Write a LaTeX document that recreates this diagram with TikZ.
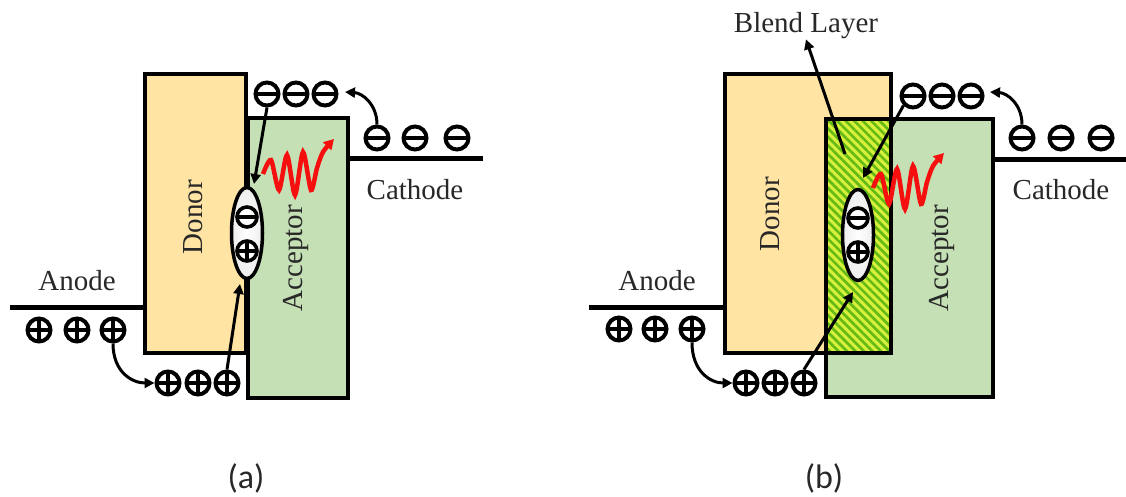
\documentclass[tikz,border=0pt]{standalone}
\usepackage{fontspec}
\setmainfont{Liberation Serif}
\newfontfamily\labfont{Carlito}
\usetikzlibrary{arrows.meta,patterns.meta,shapes.geometric}

\definecolor{donorfill}{RGB}{255,228,163}
\definecolor{accfill}{RGB}{197,224,180}
\definecolor{blendbg}{RGB}{214,240,60}
\definecolor{blendln}{RGB}{100,185,20}
\definecolor{wavered}{RGB}{245,15,15}
\definecolor{txt}{RGB}{40,40,40}

\tikzset{
  box/.style={draw=black, line width=4pt},
  electrode/.style={line width=5pt},
  chg/.style={circle, draw=black, line width=4pt, minimum size=23pt, inner sep=0pt, fill=white},
  neg/.style={chg, path picture={\draw[line width=3.4pt] (path picture bounding box.west) -- (path picture bounding box.east);}},
  posc/.style={chg, path picture={\draw[line width=3.2pt] (path picture bounding box.west) -- (path picture bounding box.east); \draw[line width=3.2pt] (path picture bounding box.north) -- (path picture bounding box.south);}},
  smallchg/.style={minimum size=20pt, line width=3.6pt},
  pair/.style={ellipse, draw=black, line width=3.5pt, inner color=white, outer color=black!7, minimum width=31pt, minimum height=91pt, inner sep=0pt},
  lbl/.style={font=\fontsize{29}{31}\selectfont, text=txt, inner sep=0pt},
  panellabel/.style={font=\labfont\fontsize{34}{36}\selectfont, text=txt, inner sep=0pt},
  arr/.style={line width=3pt, -{Triangle[length=10pt,width=10pt]}},
  wave/.style={draw=wavered, line width=4.5pt, -{Triangle[length=10pt,width=11pt]}, fill=none},
}

\begin{document}
\begin{tikzpicture}[x=1pt,y=-1pt]
\useasboundingbox (0,0) rectangle (1126,497);

% ================= panel (a) =================
\draw[electrode] (10,307) -- (145,307);
\draw[electrode] (348,159) -- (483,159);
\draw[box, fill=donorfill] (145,74) rectangle (246,353);
\draw[box, fill=accfill] (248,118) rectangle (348,398);

\node[lbl, rotate=90] (donA) at (193,217) {Donor};
\node[lbl, rotate=90] (accA) at (296,258) {Acceptor};
\node[lbl] (anA) at (77,281) {Anode};
\node[lbl] (caA) at (415,190) {Cathode};

\node[posc] (apA1) at (39,330) {};
\node[posc] (apA2) at (77,330) {};
\node[posc] (apA3) at (113,330) {};
\node[posc] (bpA1) at (168,383) {};
\node[posc] (bpA2) at (198,383) {};
\node[posc] (bpA3) at (227,383) {};

\node[neg] (tmA1) at (267,94) {};
\node[neg] (tmA2) at (296,94) {};
\node[neg] (tmA3) at (325,94) {};
\node[neg] (rmA1) at (377,138) {};
\node[neg] (rmA2) at (415,138) {};
\node[neg] (rmA3) at (457,138) {};

\node[pair] (pairA) at (247,233) {};
\node[neg, smallchg] (exnA) at (247,217) {};
\node[posc, smallchg] (expA) at (247,251) {};

\coordinate (tipTopA) at (254,184);
\coordinate (tipBotA) at (240,284);
\coordinate (tipCathA) at (345,92);

\draw[arr] (tmA1.south) -- (tipTopA);
\draw[arr] (bpA3.north) -- (tipBotA);
\draw[arr] (rmA1.north) .. controls (377,104) and (362,93) .. (tipCathA);
\draw[arr] (apA3.south) .. controls (113,372) and (132,383) .. (bpA1.west);

\draw[wave] plot[smooth, tension=0.45] coordinates {(263,174) (271,160) (279,190) (287,155) (295,195) (303,152) (311,190) (317,168) (323,152) (334,139)};

\node[panellabel] (labA) at (246,478) {(a)};

% ================= panel (b) =================
\draw[electrode] (589,307) -- (725,307);
\draw[electrode] (993,160) -- (1126,160);
\draw[box, fill=donorfill] (725,74) rectangle (891,353);
\draw[box, fill=accfill] (826,119) rectangle (993,397);
\fill[blendbg] (826,119) rectangle (891,353);
\fill[pattern={Lines[angle=-45,distance=6pt,line width=2.6pt]}, pattern color=blendln] (826,119) rectangle (891,353);
\draw[box] (826,119) rectangle (891,353);

\node[lbl, rotate=90] (donB) at (770,214) {Donor};
\node[lbl, rotate=90] (accB) at (942,258) {Acceptor};
\node[lbl] (anB) at (657,281) {Anode};
\node[lbl] (caB) at (1061,190) {Cathode};
\node[lbl] (blB) at (806,26) {Blend Layer};

\node[posc] (apB1) at (619,329) {};
\node[posc] (apB2) at (655,329) {};
\node[posc] (apB3) at (692,329) {};
\node[posc] (bpB1) at (746,383) {};
\node[posc] (bpB2) at (775,383) {};
\node[posc] (bpB3) at (804,383) {};

\node[neg] (tmB1) at (913,96) {};
\node[neg] (tmB2) at (942,96) {};
\node[neg] (tmB3) at (971,96) {};
\node[neg] (rmB1) at (1022,138) {};
\node[neg] (rmB2) at (1061,138) {};
\node[neg] (rmB3) at (1101,138) {};

\node[pair] (pairB) at (858,235) {};
\node[neg, smallchg] (exnB) at (858,218) {};
\node[posc, smallchg] (expB) at (858,252) {};

\coordinate (tipTopB) at (863,178);
\coordinate (tipBotB) at (853,292);
\coordinate (tipCathB) at (990,92);
\coordinate (blTail) at (845,154);

\draw[arr] (tmB1.south west) -- (tipTopB);
\draw[arr] (bpB3.north) -- (tipBotB);
\draw[arr] (blTail) -- (blB.south);
\draw[arr] (rmB1.north) .. controls (1022,104) and (1007,93) .. (tipCathB);
\draw[arr] (apB3.south) .. controls (692,372) and (711,383) .. (bpB1.west);

\draw[wave] plot[smooth, tension=0.45] coordinates {(873,188) (881,174) (889,204) (897,169) (905,209) (913,166) (921,204) (927,182) (933,166) (944,153)};

\node[panellabel] (labB) at (824,478) {(b)};
\end{tikzpicture}
\end{document}
